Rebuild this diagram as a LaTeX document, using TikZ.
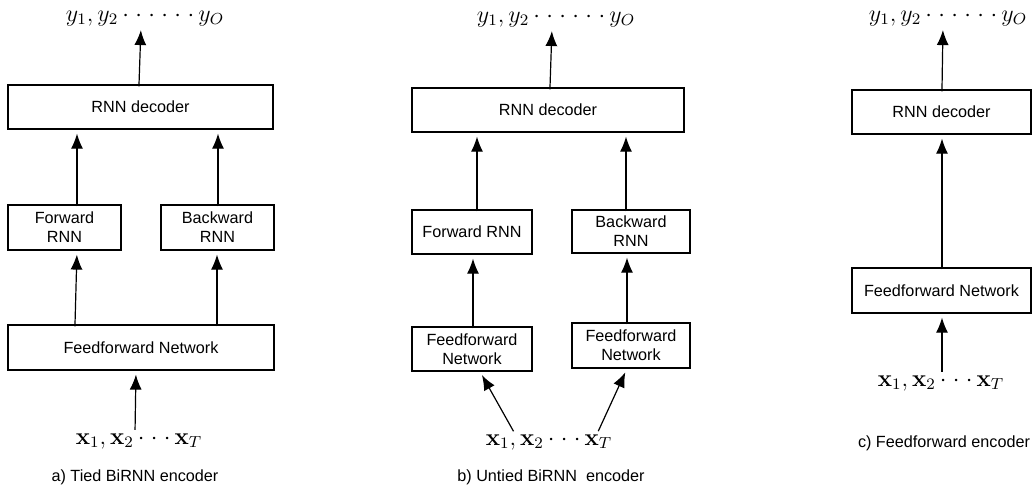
\documentclass[tikz,border=0pt]{standalone}
\usepackage{amsmath}
\usepackage[no-math]{fontspec}
\newfontfamily\boxfont{Liberation Sans}
\usetikzlibrary{arrows.meta}
% dots with a wider pitch
\newcommand{\wdot}{\cdotp\kern1.2pt}
\newcommand{\outseq}{y_1, y_2 \mathinner{\wdot\wdot\wdot\wdot\wdot\cdotp} y_O}
\newcommand{\inseq}{\mathbf{x}_1, \mathbf{x}_2 \mathinner{\wdot\wdot\cdotp} \mathbf{x}_T}
\tikzset{
	box/.style={draw, line width=0.6pt, align=center, inner sep=1pt,
		font=\boxfont\fontsize{8.1}{9.4}\selectfont},
	arr/.style={-{Latex[length=7.5pt,width=6pt]}, line width=0.6pt,
		shorten >=2pt, shorten <=-1pt},
	inarr/.style={arr, shorten <=1.5pt},
	lbl/.style={inner sep=0pt, anchor=base, font=\fontsize{11.5}{14}\selectfont},
	captext/.style={inner sep=0pt, font=\boxfont\fontsize{8.1}{9.4}\selectfont}
}

\begin{document}
\begin{tikzpicture}[x=0.5pt, y=-0.5pt]
	\useasboundingbox (0,0) rectangle (1035,488);
	% a) tied BiRNN encoder
	\node[lbl] (ya) at (145,21) {$\outseq$};
	\node[box, minimum width=132.5pt, minimum height=22pt] (deca) at (140.5,107) {RNN decoder};
	\node[box, minimum width=56.5pt, minimum height=22.5pt] (fwda) at (64.5,227.5) {Forward\\RNN};
	\node[box, minimum width=56.5pt, minimum height=22.5pt] (bwda) at (217.5,227.5) {Backward\\RNN};
	\node[box, minimum width=133pt, minimum height=22.5pt] (ffna) at (141,347.5) {Feedforward Network};
	\node[lbl] (xa) at (139,444) {$\inseq$};
	\node[captext] (capa) at (135,477) {a) Tied BiRNN encoder};
	\draw[arr] (deca.north -| 139,0) -- (ya.south -| 141,0);
	\draw[arr] (fwda.north -| 77,0) -- (deca.south -| 77,0);
	\draw[arr] (bwda.north -| 218,0) -- (deca.south -| 218,0);
	\draw[arr] (ffna.north -| 75,0) -- (fwda.south -| 77,0);
	\draw[arr] (ffna.north -| 217,0) -- (bwda.south -| 217,0);
	\draw[inarr] (xa.north -| 135,0) -- (ffna.south -| 136,0);
	% b) untied BiRNN encoder
	\node[lbl] (yb) at (556,22) {$\outseq$};
	\node[box, minimum width=136pt, minimum height=22pt] (decb) at (548,110) {RNN decoder};
	\node[box, minimum width=60pt, minimum height=22pt] (fwdb) at (472,232) {Forward RNN};
	\node[box, minimum width=59pt, minimum height=21.5pt] (bwdb) at (631,231.5) {Backward\\RNN};
	\node[box, minimum width=60pt, minimum height=22pt] (ffnbl) at (472,349) {Feedforward\\Network};
	\node[box, minimum width=59pt, minimum height=22.5pt] (ffnbr) at (631,345.5) {Feedforward\\Network};
	\node[lbl] (xb) at (549,445) {$\inseq$};
	\node[captext] (capb) at (551,477) {b) Untied BiRNN\ \ encoder};
	\draw[arr] (decb.north -| 550,0) -- (yb.south -| 552,0);
	\draw[arr] (fwdb.north -| 477,0) -- (decb.south -| 477,0);
	\draw[arr] (bwdb.north -| 626,0) -- (decb.south -| 626,0);
	\draw[arr] (ffnbl.north -| 473,0) -- (fwdb.south -| 473,0);
	\draw[arr] (ffnbr.north -| 627,0) -- (bwdb.south -| 627,0);
	\draw[inarr] (xb.north -| 515,0) -- (ffnbl.south -| 480,0);
	\draw[inarr] (xb.north -| 597,0) -- (ffnbr.south -| 627,0);
	% c) feedforward encoder
	\node[lbl] (yc) at (948,21) {$\outseq$};
	\node[box, minimum width=89.5pt, minimum height=22pt] (decc) at (941.5,112) {RNN decoder};
	\node[box, minimum width=89.5pt, minimum height=22.5pt] (ffnc) at (941.5,290.5) {Feedforward Network};
	\node[lbl] (xc) at (941,386) {$\inseq$};
	\node[captext] (capc) at (944,443) {c) Feedforward encoder};
	\draw[arr] (decc.north -| 942,0) -- (yc.south -| 943,0);
	\draw[arr] (ffnc.north -| 942,0) -- (decc.south -| 942,0);
	\draw[inarr] (xc.north -| 942,0) -- (ffnc.south -| 942,0);
\end{tikzpicture}
\end{document}
